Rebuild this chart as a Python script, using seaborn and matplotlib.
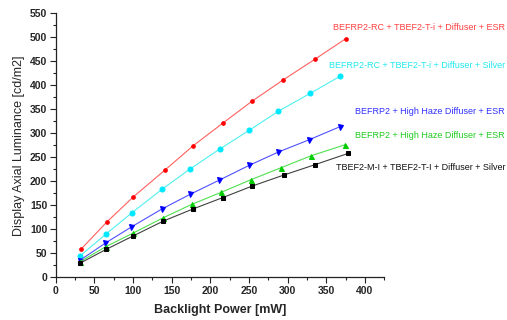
import matplotlib
matplotlib.use("Agg")
import matplotlib.pyplot as plt
import seaborn as sns
import pandas as pd
from matplotlib.ticker import MultipleLocator

# Data
red_x = [33, 66, 100, 141, 177, 216, 254, 294, 335, 375]
red_y = [59, 115, 167, 223, 273, 321, 367, 411, 454, 497]
cyan_x = [31, 65, 99, 138, 174, 212, 250, 288, 329, 368]
cyan_y = [44, 90, 135, 184, 226, 267, 306, 346, 383, 419]
blue_x = [31, 64, 98, 137, 174, 211, 250, 288, 327, 368]
blue_y = [35, 71, 105, 142, 173, 202, 233, 261, 286, 314]
green_x = [31, 65, 100, 139, 176, 214, 252, 291, 330, 374]
green_y = [32, 64, 92, 124, 152, 177, 203, 228, 253, 276]
black_x = [31, 65, 100, 139, 177, 216, 254, 295, 336, 378]
black_y = [29, 58, 86, 117, 142, 166, 190, 213, 235, 258]

labels = [
    "BEFRP2-RC + TBEF2-T-i + Diffuser + ESR",
    "BEFRP2-RC + TBEF2-T-i + Diffuser + Silver",
    "BEFRP2 + High Haze Diffuser + ESR",
    "BEFRP2 + High Haze Diffuser + ESR ",
    "TBEF2-M-I + TBEF2-T-I + Diffuser + Silver",
]
xs = [red_x, cyan_x, blue_x, green_x, black_x]
ys = [red_y, cyan_y, blue_y, green_y, black_y]

x_label = "Backlight Power [mW]"
y_label = "Display Axial Luminance [cd/m2]"

# styles
line_colors = ["#ff6060", "#50f0f0", "#5050ff", "#50e050", "#404040"]
mark_colors = ["#ff0000", "#00e8ff", "#0000ff", "#00cc00", "#000000"]
text_colors = ["#ff4040", "#20e8f0", "#3030ff", "#20cc20", "#111111"]
markers = ["o", "o", "v", "^", "s"]
msizes = [2.6, 3.6, 3.6, 3.6, 3.0]
label_pos_y = [27, 66, 112, 136, 168]  # pixel y of text centres

rows = []
for lab, xx, yy in zip(labels, xs, ys):
    for a, b in zip(xx, yy):
        rows.append({"series": lab, "x": a, "y": b})
df = pd.DataFrame(rows)

sns.set_style("white")
plt.rcParams['font.family'] = ['Liberation Sans', 'DejaVu Sans']

W, H = 507, 320
fig = plt.figure(figsize=(W / 100, H / 100), dpi=100)
ax = fig.add_axes([55.7 / W, 1 - 277.3 / H, (384.3 - 55.7) / W, (277.3 - 13.3) / H])

for lab, lc, mc, mk, ms in zip(labels, line_colors, mark_colors, markers, msizes):
    sub = df[df["series"] == lab]
    sns.lineplot(data=sub, x="x", y="y", ax=ax, color=lc, linewidth=0.8,
                 marker=mk, markersize=ms, markerfacecolor=mc, markeredgecolor=mc,
                 legend=False, sort=False)

ax.set_xlim(0, 425)
ax.set_ylim(0, 550)
ax.xaxis.set_major_locator(MultipleLocator(50))
ax.xaxis.set_minor_locator(MultipleLocator(25))
ax.yaxis.set_major_locator(MultipleLocator(50))
ax.yaxis.set_minor_locator(MultipleLocator(25))
ax.set_xticks([0, 50, 100, 150, 200, 250, 300, 350, 400])
ax.tick_params(axis="both", which="major", direction="out", length=4, width=0.8,
               labelsize=7.5, pad=2, color="#222222", bottom=True, left=True)
ax.tick_params(axis="both", which="minor", direction="out", length=2.5, width=0.8,
               color="#222222", bottom=True, left=True)
for t in ax.get_xticklabels() + ax.get_yticklabels():
    t.set_fontweight("bold")

for s in ["top", "right"]:
    ax.spines[s].set_visible(False)
for s in ["left", "bottom"]:
    ax.spines[s].set_color("#222222")
    ax.spines[s].set_linewidth(0.9)

ax.set_xlabel(x_label, fontsize=9, fontweight="bold", labelpad=6)
ax.set_ylabel(y_label, fontsize=9, labelpad=4)

for lab, tc, py in zip(labels, text_colors, label_pos_y):
    fig.text(505 / W, 1 - py / H, lab.strip(), color=tc, fontsize=6.5,
             ha="right", va="center")

fig.savefig("out.png", dpi=100)
